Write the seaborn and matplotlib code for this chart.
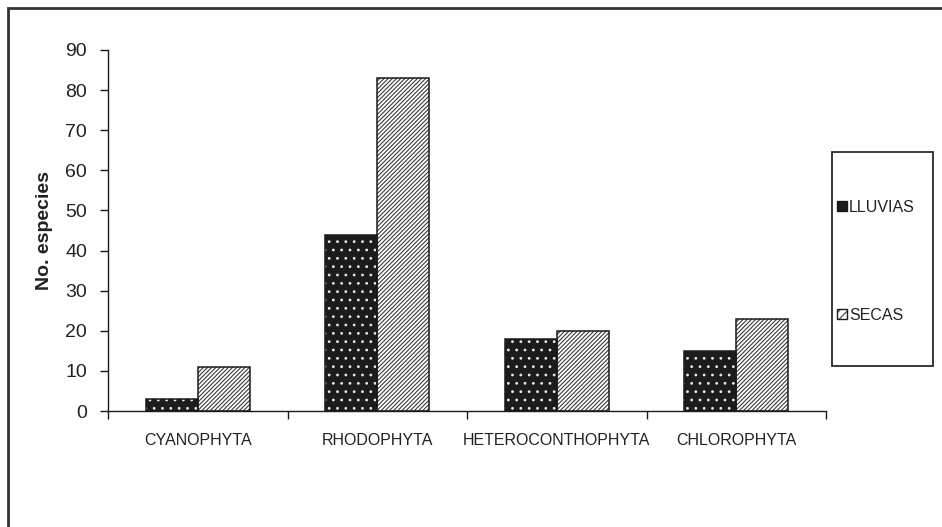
import matplotlib
matplotlib.use("Agg")
import matplotlib.pyplot as plt
from matplotlib.patches import Rectangle, Patch
from matplotlib.legend_handler import HandlerTuple
import seaborn as sns
import pandas as pd

categories = ["CYANOPHYTA", "RHODOPHYTA", "HETEROCONTHOPHYTA", "CHLOROPHYTA"]
series_names = ["LLUVIAS", "SECAS"]
lluvias = [3, 44, 18, 15]
secas = [11, 83, 20, 23]
y_ticks = [0, 10, 20, 30, 40, 50, 60, 70, 80, 90]
y_label = "No. especies"

sns.set_theme(style="ticks")
plt.rcParams['font.family'] = ['Liberation Sans', 'DejaVu Sans']
plt.rcParams['hatch.linewidth'] = 0.8

DARK = "#1c1c1c"
EDGE = "#1a1a1a"
HATCH = "#3c3c3c"
TXT = "#222222"

df = pd.DataFrame({
    "grupo": categories * 2,
    "temporada": [series_names[0]] * len(categories) + [series_names[1]] * len(categories),
    "especies": lluvias + secas,
})

fig = plt.figure(figsize=(9.42, 5.27), dpi=100)
ax = fig.add_axes([108 / 942, (527 - 411) / 527, (826 - 108) / 942, (411 - 50) / 527])

sns.barplot(data=df, x="grupo", y="especies", hue="temporada",
            palette={series_names[0]: DARK, series_names[1]: "white"},
            width=0.58, edgecolor=EDGE, linewidth=1.0, saturation=1,
            legend=False, ax=ax, errorbar=None)

# dotted dark bars (white dots) and hatched light bars
for bar in ax.containers[0]:
    bar.set_hatch("..")
    bar.set_edgecolor("#e8e8e8")
    bar.set_linewidth(0)
for bar in ax.containers[1]:
    bar.set_hatch("////////")
    bar.set_edgecolor(HATCH)
    bar.set_linewidth(0)
for cont in ax.containers:
    for bar in cont:
        ax.add_patch(Rectangle(bar.get_xy(), bar.get_width(), bar.get_height(),
                               fill=False, edgecolor=EDGE, linewidth=1.1,
                               zorder=bar.get_zorder() + 0.1))

ax.set_xlim(-0.5, len(categories) - 0.5)
ax.set_ylim(0, 90)
ax.set_yticks(y_ticks)
ax.set_yticklabels([str(v) for v in y_ticks], fontsize=14, color=TXT)
ax.set_xticks(range(len(categories)))
ax.set_xticklabels(categories, fontsize=11.5, color=TXT)
ax.set_xticks([i - 0.5 for i in range(len(categories) + 1)], minor=True)
ax.tick_params(axis="x", which="major", length=0, pad=16)
ax.tick_params(axis="x", which="minor", length=6, width=1, color=EDGE, bottom=True, direction="out")
ax.tick_params(axis="y", which="major", length=6, width=1, color=EDGE, left=True, direction="out", pad=9)
ax.set_xlabel("")
ax.set_ylabel(y_label, fontsize=14, fontweight="bold", color=TXT, labelpad=9)

sns.despine(ax=ax)
for s in ("left", "bottom"):
    ax.spines[s].set_color(EDGE)
    ax.spines[s].set_linewidth(1.0)

# legend with tall frame
fig.add_artist(Rectangle((832 / 942, 1 - 366 / 527), (933 - 832) / 942, (366 - 152) / 527,
                         transform=fig.transFigure, fill=False, edgecolor="#2a2a2a", linewidth=1.3))
h1 = (Patch(facecolor=DARK, edgecolor="#e8e8e8", hatch=".", linewidth=0),
      Patch(facecolor="none", edgecolor=EDGE, linewidth=1.0))
h2 = (Patch(facecolor="white", edgecolor=HATCH, hatch="////", linewidth=0),
      Patch(facecolor="none", edgecolor=EDGE, linewidth=1.0))
fig.legend([h1, h2], series_names, loc="upper left",
           bbox_to_anchor=(837 / 942, 1 - 200 / 527), bbox_transform=fig.transFigure,
           frameon=False, borderpad=0, borderaxespad=0, fontsize=11.5,
           labelspacing=5.8, handlelength=0.6, handleheight=0.6, handletextpad=0.15,
           labelcolor=TXT, handler_map={tuple: HandlerTuple(ndivide=1)})

# outer border
fig.add_artist(Rectangle((8 / 942, -0.05), 1.0, (1 - 8 / 527) + 0.05,
                         transform=fig.transFigure, fill=False, edgecolor="#333333", linewidth=2))

fig.savefig("out.png", dpi=100)
